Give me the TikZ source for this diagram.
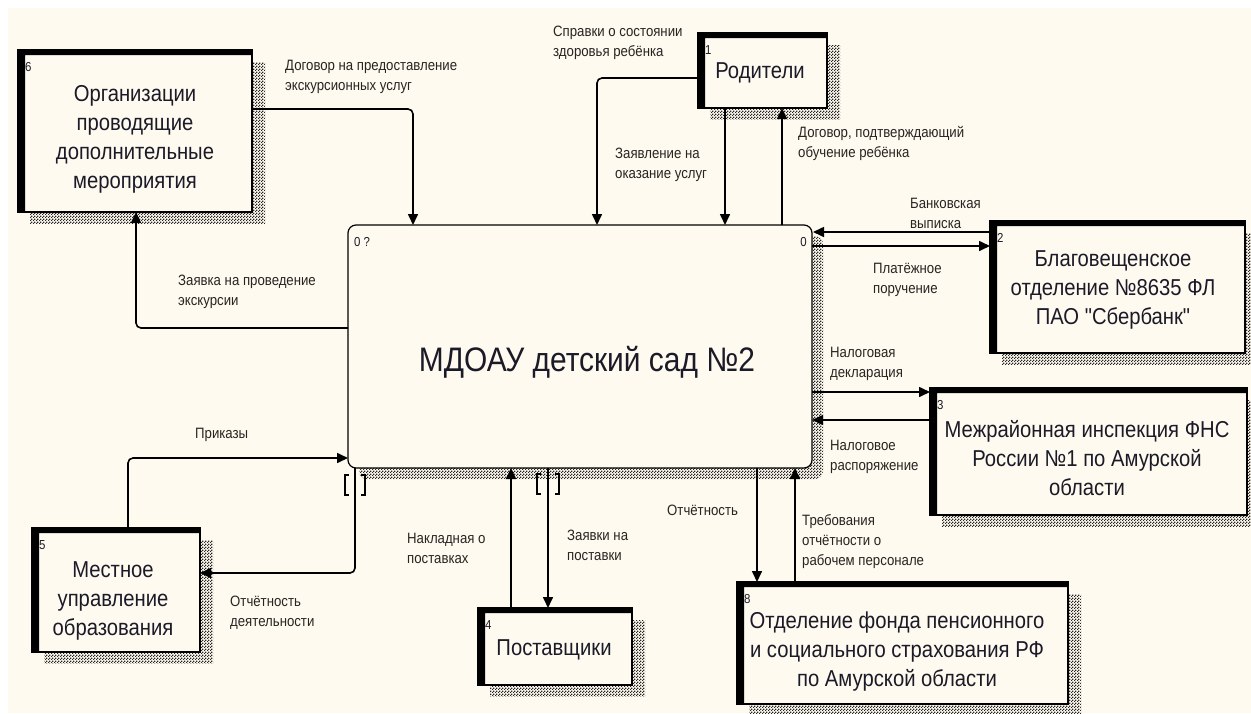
\documentclass[tikz,border=0pt]{standalone}
\usepackage{fontspec}
\setmainfont{Liberation Sans}[FakeStretch=0.88, Ligatures=TeXOff]
\usetikzlibrary{arrows.meta,calc,patterns}
\definecolor{paper}{RGB}{255,250,239}
\definecolor{ink}{RGB}{26,26,40}
\definecolor{lblink}{RGB}{40,36,34}

% dotted shadow fill
\pgfdeclarepatternformonly{idefdots}{\pgfpointorigin}{\pgfqpoint{3pt}{3pt}}{\pgfqpoint{3pt}{3pt}}{%
  \pgfpathrectangle{\pgfpointorigin}{\pgfqpoint{1.5pt}{1.5pt}}%
  \pgfpathrectangle{\pgfqpoint{1.5pt}{1.5pt}}{\pgfqpoint{1.5pt}{1.5pt}}%
  \pgfusepath{fill}}

% external entity: name, x1, y1, x2, y2, number
\newcommand\entbox[6]{%
  \fill[hatch] (#2+12,#3+12) rectangle (#4+13,#5+11);
  \node[entity, minimum width={(#4-#2)*1pt}, minimum height={(#5-#3)*1pt}] (#1) at (#2,#3) {};
  \fill (#1.south west) -- (#1.north west) -- (#1.north east)
        -- ($(#1.north east)+(0,5)$) -- ($(#1.north west)+(7,5)$)
        -- ($(#1.south west)+(7,0)$) -- cycle;
  \node[num] (#1n) at ($(#1.north west)+(7,12)$) {#6};
}
% tunnel brackets around a connector
\newcommand\tunnelmark[2]{%
  \draw[tunnel] ($(#1)+(-#2+4,-10)$) -- ++(-4,0) -- ++(0,20) -- ++(4,0);
  \draw[tunnel] ($(#1)+(#2-4,-10)$) -- ++(4,0) -- ++(0,20) -- ++(-4,0);
}

\begin{document}
\begin{tikzpicture}[x=1pt,y=-1pt,
  entity/.style={draw=black, line width=1.2pt, fill=paper, inner sep=0pt, outer sep=0pt, anchor=north west},
  hatch/.style={pattern=idefdots, pattern color=black!85},
  flow/.style={line width=1.6pt, rounded corners=5pt, -{Triangle[length=11pt,width=10pt]}},
  lbl/.style={font=\fontsize{15}{20}\selectfont, align=left, anchor=west, inner sep=0pt, text=lblink},
  num/.style={font=\fontsize{13}{15}\selectfont, anchor=north west, inner sep=0pt, text=ink},
  etext/.style={font=\fontsize{23}{29}\selectfont, align=center, inner sep=0pt, text=ink},
  tunnel/.style={line width=1.2pt}]

\useasboundingbox (0,0) rectangle (1251,713);
\fill[white] (0,0) rectangle (1251,713);
\fill[paper] (8,8) rectangle (1251,713);

% central activity
\fill[hatch, rounded corners=8pt] (359,236) rectangle (823,479);
\node[entity, rounded corners=8pt, minimum width=464pt, minimum height=243pt] (main) at (348,225) {};
\node[font=\fontsize{34}{40}\selectfont, text=ink, inner sep=0pt] (maintitle) at (587,362) {МДОАУ детский сад №2};
\node[num, anchor=west] (mainnum) at (354,242) {0 ?};
\node[num, anchor=east] (mainref) at (807,242) {0};

% external entities
\entbox{b6}{18}{50}{252}{212}{6}
\entbox{b1}{698}{33}{827}{108}{1}
\entbox{b2}{990}{221}{1245}{353}{2}
\entbox{b3}{930}{388}{1247}{515}{3}
\entbox{b8}{737}{582}{1068}{704}{8}
\entbox{b4}{478}{608}{632}{685}{4}
\entbox{b5}{32}{528}{200}{652}{5}

\node[etext] (b6t) at (135,139) {Организации\\проводящие\\дополнительные\\мероприятия};
\node[etext] (b1t) at (760,73) {Родители};
\node[etext] (b2t) at (1113,290) {Благовещенское\\отделение №8635 ФЛ\\ПАО "Сбербанк"};
\node[etext] (b3t) at (1087,458) {Межрайонная инспекция ФНС\\России №1 по Амурской\\области};
\node[etext] (b8t) at (897,652) {Отделение фонда пенсионного\\и социального страхования РФ\\по Амурской области};
\node[etext] (b4t) at (554,650) {Поставщики};
\node[etext] (b5t) at (113,601) {Местное\\управление\\образования};

% flows
\coordinate (c1) at ($(b6.north east)+(0,59)$);
\draw[flow] (c1) -| ($(main.north west)+(65,0)$);
\coordinate (c2) at ($(b6.south west)+(118,0)$);
\draw[flow] ($(main.north west)+(0,103)$) -| (c2);
\coordinate (c3) at ($(b1.north west)+(0,45)$);
\draw[flow] (c3) -| ($(main.north west)+(249,0)$);
\coordinate (c4) at ($(b1.south west)+(27,0)$);
\draw[flow] (c4) -- (c4 |- main.north);
\coordinate (c5) at ($(b1.south west)+(84,0)$);
\draw[flow] (c5 |- main.north) -- (c5);
\coordinate (c6) at ($(b2.north west)+(0,11)$);
\draw[flow] (c6) -- ($(c6 -| main.east)+(1,0)$);
\coordinate (c7) at ($(b2.north west)+(0,25)$);
\draw[flow] (c7 -| main.east) -- (c7);
\coordinate (c8) at ($(b3.north west)+(0,4)$);
\draw[flow] (c8 -| main.east) -- (c8);
\coordinate (c9) at ($(b3.north west)+(0,32)$);
\draw[flow] (c9) -- (c9 -| main.east);
\coordinate (c10) at ($(b8.north west)+(20,0)$);
\draw[flow] (c10 |- main.south) -- (c10);
\coordinate (c11) at ($(b8.north west)+(58,0)$);
\draw[flow] (c11) -- (c11 |- main.south);
\coordinate (c12) at ($(b4.north west)+(33,0)$);
\draw[flow] (c12) -- (c12 |- main.south);
\coordinate (c13) at ($(b4.north west)+(70,0)$);
\draw[flow] (c13 |- main.south) -- (c13);
\coordinate (c14) at ($(b5.north west)+(96,0)$);
\draw[flow] (c14) |- ($(main.north west)+(0,233)$);
\coordinate (c15) at ($(b5.north east)+(0,45)$);
\draw[flow] ($(main.south west)+(7,0)$) |- (c15);

% tunnels
\coordinate (t15) at ($(main.south west)+(7,17)$);
\tunnelmark{t15}{10}
\coordinate (t13) at ($(c13 |- main.south)+(0,16)$);
\tunnelmark{t13}{11}

% flow labels
\node[lbl] (l1) at (285,77) {Договор на предоставление\\экскурсионных услуг};
\node[lbl] (l2) at (178,292) {Заявка на проведение\\экскурсии};
\node[lbl] (l3) at (553,43) {Справки о состоянии\\здоровья ребёнка};
\node[lbl] (l4) at (615,165) {Заявление на\\оказание услуг};
\node[lbl] (l5) at (798,143) {Договор, подтверждающий\\обучение ребёнка};
\node[lbl] (l6) at (910,213) {Банковская\\выписка};
\node[lbl] (l7) at (873,280) {Платёжное\\поручение};
\node[lbl] (l8) at (830,364) {Налоговая\\декларация};
\node[lbl] (l9) at (830,457) {Налоговое\\распоряжение};
\node[lbl] (l10) at (667,510) {Отчётность};
\node[lbl] (l11) at (802,542) {Требования\\отчётности о\\рабочем персонале};
\node[lbl] (l12) at (407,548) {Накладная о\\поставках};
\node[lbl] (l13) at (567,545) {Заявки на\\поставки};
\node[lbl] (l14) at (195,435) {Приказы};
\node[lbl] (l15) at (230,613) {Отчётность\\деятельности};
\end{tikzpicture}
\end{document}
